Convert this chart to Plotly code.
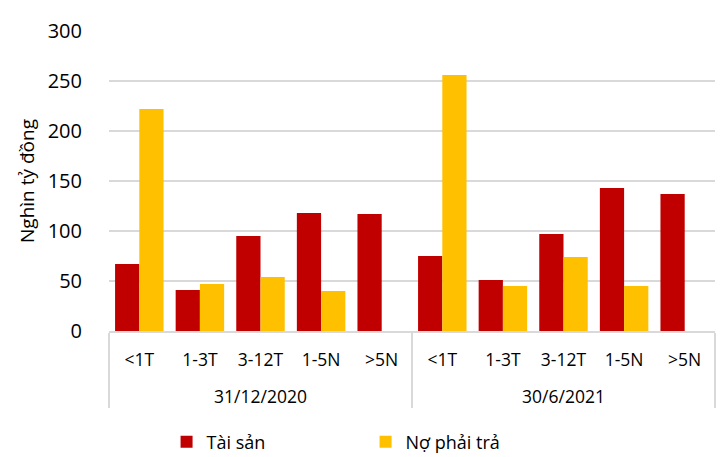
import plotly.graph_objects as go

groups = ["31/12/2020"] * 5 + ["30/6/2021"] * 5
terms = ["<1T", "1-3T", "3-12T", "1-5N", ">5N"] * 2
tai_san = [67, 41, 95, 118, 117, 75, 51, 97, 143, 137]
no_phai_tra = [222, 47, 54, 40, None, 256, 45, 74, 45, None]

FONT = "Open Sans"

# leading line break pushes the group row further below the term row
group_labels = ["<br>" + g for g in groups]

fig = go.Figure()
fig.add_trace(go.Bar(x=[group_labels, terms], y=tai_san, name="Tài sản",
                     marker=dict(color="#C00000", line=dict(width=0))))
fig.add_trace(go.Bar(x=[group_labels, terms], y=no_phai_tra, name="Nợ phải trả",
                     marker=dict(color="#FFC000", line=dict(width=0))))

fig.update_layout(
    width=722, height=457,
    margin=dict(l=109, r=7, t=31, b=126),
    paper_bgcolor="white", plot_bgcolor="white",
    barmode="group", bargap=0.2, bargroupgap=0,
    font=dict(family=FONT, size=18, color="#000000"),
    showlegend=True,
    legend=dict(orientation="h", x=0.095, xanchor="left",
                yref="container", y=1 - 442 / 457, yanchor="middle",
                entrywidth=154, font=dict(size=18), itemwidth=30),
    xaxis=dict(type="multicategory", showline=True, linecolor="#D9D9D9", linewidth=1.5,
               showdividers=True, dividercolor="#D9D9D9", dividerwidth=1.5,
               tickfont=dict(size=17.5), ticks="", ticklabelstandoff=12,
               automargin=False),
    yaxis=dict(range=[0, 300], tickvals=[0, 50, 100, 150, 200, 250, 300],
               showgrid=True, gridcolor="#D9D9D9", gridwidth=1.5,
               zeroline=False, showline=False, ticks="",
               tickfont=dict(size=20), ticklabelstandoff=26, automargin=False,
               title=dict(text="Nghìn tỷ đồng", font=dict(size=19), standoff=8)),
)

fig.write_html("out.html", config={"displayModeBar": False},
               post_script="document.body.style.margin='0';")
